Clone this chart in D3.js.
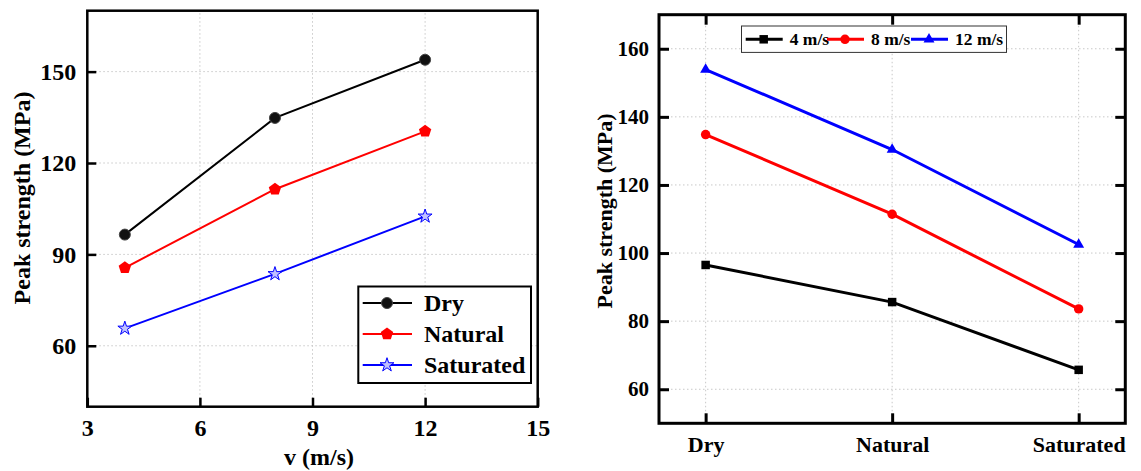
<!DOCTYPE html>
<html>
<head>
<meta charset="utf-8">
<script src="https://d3js.org/d3.v7.min.js"></script>
<style>
body { margin: 0; background: #fff; }
.grid line { stroke: #c8c8c8; stroke-dasharray: 1.5,2.5; stroke-width: 1; }
</style>
</head>
<body>
<div id="chart"></div>
<script>

// data
var speeds = [4, 8, 12]
var conditions = ["Dry", "Natural", "Saturated"]
var dryVals = [96.5, 134.8, 153.9]
var naturalVals = [85.6, 111.4, 130.4]
var saturatedVals = [65.7, 83.6, 102.5]
var speedLabels = ["4 m/s", "8 m/s", "12 m/s"]
var xTicksL = [3, 6, 9, 12, 15]
var yTicksL = [60, 90, 120, 150]
var yTicksR = [60, 80, 100, 120, 140, 160]

var fontFam = "Liberation Serif"

var svg = d3.select("#chart").append("svg")
  .attr("width", 1141)
  .attr("height", 471)

// pentagon path for the "Natural" marker
function pentagon(r) {
  var pts = d3.range(5).map(function(i) {
    var a = -Math.PI / 2 + i * 2 * Math.PI / 5
    return [r * Math.cos(a), r * Math.sin(a)]
  })
  return "M" + pts.join("L") + "Z"
}

/////////////////////////// left chart: strength vs speed

var xL = d3.scaleLinear().domain([3, 15]).range([87.3, 537.7])
var yL = d3.scaleLinear().domain([40, 170]).range([406.7, 10.7])

var left = svg.append("g")

left.append("g").attr("class", "grid")
  .selectAll("line").data(yTicksL).enter().append("line")
  .attr("x1", xL(3)).attr("x2", xL(15))
  .attr("y1", function(d) { return yL(d) }).attr("y2", function(d) { return yL(d) })
left.append("g").attr("class", "grid")
  .selectAll("line").data(xTicksL.slice(1, 4)).enter().append("line")
  .attr("y1", yL(40)).attr("y2", yL(170))
  .attr("x1", function(d) { return xL(d) }).attr("x2", function(d) { return xL(d) })

var seriesL = [
  { name: "Dry", vals: dryVals, color: "#000", marker: "circle" },
  { name: "Natural", vals: naturalVals, color: "#ff0000", marker: "pentagon" },
  { name: "Saturated", vals: saturatedVals, color: "#0000ff", marker: "star" }
]

function markerL(sel, s) {
  if (s.marker == "circle") {
    sel.append("circle").attr("r", 5.5).attr("fill", "#111").attr("stroke", "#444").attr("stroke-width", 1)
  } else if (s.marker == "pentagon") {
    sel.append("path").attr("d", pentagon(6.5)).attr("fill", s.color)
  } else {
    sel.append("path").attr("d", d3.symbol(d3.symbolStar, 60)()).attr("fill", "#c0c0ff").attr("stroke", s.color).attr("stroke-width", 1)
  }
}

var lineL = d3.line()
  .x(function(d, i) { return xL(speeds[i]) })
  .y(function(d) { return yL(d) })

seriesL.forEach(function(s) {
  left.append("path")
    .attr("d", lineL(s.vals))
    .attr("fill", "none")
    .attr("stroke", s.color)
    .attr("stroke-width", 2)
  s.vals.forEach(function(v, i) {
    var g = left.append("g").attr("transform", "translate(" + xL(speeds[i]) + "," + yL(v) + ")")
    markerL(g, s)
  })
})

var axLy = left.append("g")
  .attr("transform", "translate(" + xL(3) + ",0)")
  .call(d3.axisLeft(yL).tickValues(yTicksL).tickSize(-9).tickPadding(11))
var axLx = left.append("g")
  .attr("transform", "translate(0," + yL(40) + ")")
  .call(d3.axisBottom(xL).tickValues(xTicksL).tickSize(-9).tickPadding(12))
;[axLy, axLx].forEach(function(a) {
  a.select(".domain").remove()
  a.attr("font-family", fontFam).attr("font-size", 24)
  a.selectAll("line").attr("stroke", "#000").attr("stroke-width", 2.5)
})

left.append("rect")
  .attr("x", xL(3)).attr("y", yL(170))
  .attr("width", xL(15) - xL(3)).attr("height", yL(40) - yL(170))
  .attr("fill", "none").attr("stroke", "#000").attr("stroke-width", 2.5)

left.append("text")
  .attr("transform", "translate(30,198) rotate(-90)")
  .attr("text-anchor", "middle")
  .attr("font-size", 24)
  .text("Peak strength (MPa)")

left.append("text")
  .attr("x", 319).attr("y", 465)
  .attr("text-anchor", "middle")
  .attr("font-size", 24)
  .text("v (m/s)")

// legend
var legL = left.append("g")
legL.append("rect")
  .attr("x", 358.3).attr("y", 286.5).attr("width", 172.7).attr("height", 96.5)
  .attr("fill", "#fff").attr("stroke", "#000").attr("stroke-width", 2)
seriesL.forEach(function(s, i) {
  var yy = 303 + i * 31
  legL.append("line").attr("x1", 362.7).attr("x2", 412).attr("y1", yy).attr("y2", yy)
    .attr("stroke", s.color).attr("stroke-width", 2)
  markerL(legL.append("g").attr("transform", "translate(387," + yy + ")"), s)
  legL.append("text").attr("x", 424).attr("y", yy).attr("dy", "0.35em")
    .attr("font-size", 24).text(s.name)
})

/////////////////////////// right chart: strength vs condition

var xR = d3.scalePoint().domain(conditions).range([659, 1125.3]).padding(0.25)
var yR = d3.scaleLinear().domain([50, 170]).range([423.3, 14.7])

var right = svg.append("g")

right.append("g").attr("class", "grid")
  .selectAll("line").data(yTicksR).enter().append("line")
  .attr("x1", xR.range()[0]).attr("x2", xR.range()[1])
  .attr("y1", function(d) { return yR(d) }).attr("y2", function(d) { return yR(d) })
right.append("g").attr("class", "grid")
  .selectAll("line").data(conditions).enter().append("line")
  .attr("y1", yR(50)).attr("y2", yR(170))
  .attr("x1", function(d) { return xR(d) }).attr("x2", function(d) { return xR(d) })

var colorsR = ["#000", "#ff0000", "#0000ff"]
var symbolsR = [d3.symbol(d3.symbolSquare, 72)(), d3.symbol(d3.symbolCircle, 70)(), d3.symbol(d3.symbolTriangle, 52)()]

var lineR = d3.line()
  .x(function(d, i) { return xR(conditions[i]) })
  .y(function(d) { return yR(d) })

speeds.forEach(function(sp, k) {
  var vals = [dryVals[k], naturalVals[k], saturatedVals[k]]
  right.append("path")
    .attr("d", lineR(vals))
    .attr("fill", "none")
    .attr("stroke", colorsR[k])
    .attr("stroke-width", 3)
  vals.forEach(function(v, i) {
    right.append("path")
      .attr("d", symbolsR[k])
      .attr("transform", "translate(" + xR(conditions[i]) + "," + yR(v) + ")")
      .attr("fill", colorsR[k])
  })
})

var axRy = right.append("g")
  .attr("transform", "translate(" + xR.range()[0] + ",0)")
  .call(d3.axisLeft(yR).tickValues(yTicksR).tickSize(-10).tickPadding(10))
var axRy2 = right.append("g")
  .attr("transform", "translate(" + xR.range()[1] + ",0)")
  .call(d3.axisRight(yR).tickValues(yTicksR).tickSize(-10).tickFormat(""))
var axRx = right.append("g")
  .attr("transform", "translate(0," + yR(50) + ")")
  .call(d3.axisBottom(xR).tickSize(-10).tickPadding(13))
var axRx2 = right.append("g")
  .attr("transform", "translate(0," + yR(170) + ")")
  .call(d3.axisTop(xR).tickSize(-10).tickFormat(""))
;[axRy, axRy2, axRx, axRx2].forEach(function(a) {
  a.select(".domain").remove()
  a.attr("font-family", fontFam).attr("font-size", 21)
  a.selectAll("line").attr("stroke", "#000").attr("stroke-width", 3)
})
axRx.attr("font-size", 22)

right.append("rect")
  .attr("x", xR.range()[0]).attr("y", yR(170))
  .attr("width", xR.range()[1] - xR.range()[0]).attr("height", yR(50) - yR(170))
  .attr("fill", "none").attr("stroke", "#000").attr("stroke-width", 3)

right.append("text")
  .attr("transform", "translate(612,211) rotate(-90)")
  .attr("text-anchor", "middle")
  .attr("font-size", 22)
  .text("Peak strength (MPa)")

// legend
var legR = right.append("g")
legR.append("rect")
  .attr("x", 741.5).attr("y", 26).attr("width", 265).attr("height", 26.4)
  .attr("fill", "#fff").attr("stroke", "#333").attr("stroke-width", 1)
var legX = [745.7, 827, 911]
speeds.forEach(function(sp, k) {
  var yy = 39.3
  legR.append("line").attr("x1", legX[k]).attr("x2", legX[k] + 37).attr("y1", yy).attr("y2", yy)
    .attr("stroke", colorsR[k]).attr("stroke-width", 3)
  legR.append("path").attr("d", symbolsR[k])
    .attr("transform", "translate(" + (legX[k] + 18) + "," + yy + ")")
    .attr("fill", colorsR[k])
  legR.append("text").attr("x", legX[k] + 44).attr("y", yy).attr("dy", "0.35em")
    .attr("font-size", 17.5).text(speedLabels[k])
})

// every text in bold serif, like the figure
svg.selectAll("text")
  .attr("font-family", fontFam)
  .attr("font-weight", "bold")
  .attr("fill", "#000")

</script>
</body>
</html>
